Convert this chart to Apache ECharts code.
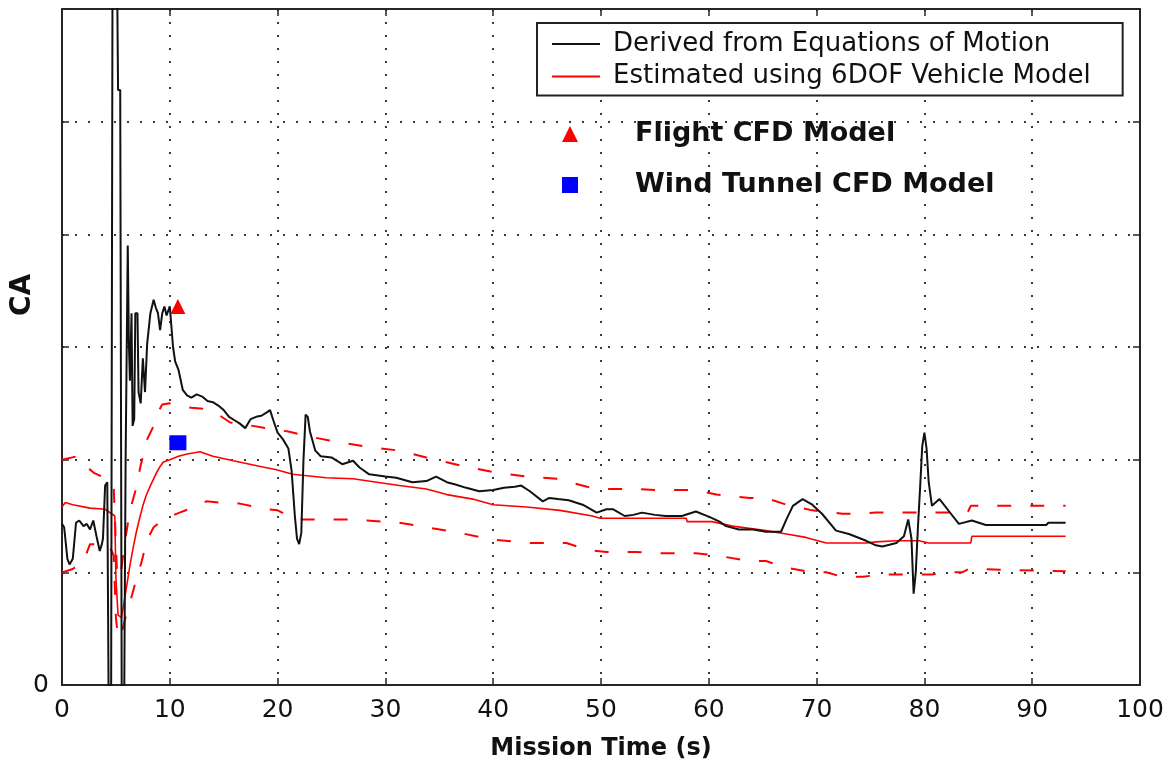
<!DOCTYPE html>
<html>
<head>
<meta charset="utf-8">
<script src="https://cdn.jsdelivr.net/npm/echarts@6/dist/echarts.min.js"></script>
<style>
html,body{margin:0;padding:0;background:#fff;}
#chart{width:1169px;height:770px;}
</style>
</head>
<body>
<div id="chart"></div>
<script>
// ---- Data ----
const xTicks = [0, 10, 20, 30, 40, 50, 60, 70, 80, 90, 100];
const yTickLabels = ['0', '', '', '', '', '', ''];

// Derived from Equations of Motion (black)
const eomTime = [0.0,0.2,0.5,0.7,1.0,1.3,1.6,2.0,2.3,2.6,2.9,3.2,3.5,3.7,3.8,4.0,4.2,4.35,4.55,4.7,5.05,5.2,5.4,5.55,5.75,
  5.9,6.1,6.2,6.3,6.45,6.55,6.7,6.8,7.0,7.1,7.3,7.5,7.7,7.9,8.2,8.5,8.7,8.9,9.1,9.3,9.5,9.7,10.0,10.3,10.5,10.8,11.2,11.6,
  12.0,12.5,13.0,13.5,14.0,14.5,15.0,15.5,16.0,16.5,17.0,17.5,18.0,18.5,19.0,19.3,19.6,20.0,20.5,21.0,21.3,21.6,21.8,22.0,
  22.2,22.4,22.6,22.8,23.0,23.5,24.0,25.0,26.0,27.0,27.6,28.5,30.0,31.0,32.5,33.8,34.7,35.7,36.5,37.5,38.7,40.0,41.0,42.0,
  42.6,43.4,44.6,45.2,46.0,47.0,48.3,49.6,50.5,51.1,52.2,53.0,53.8,55.0,56.0,57.5,58.8,60.1,61.0,61.6,62.8,64.1,65.3,66.7,
  67.2,67.8,68.7,69.6,70.5,71.8,73.0,74.6,75.5,76.1,77.4,78.1,78.5,78.8,79.0,79.2,79.4,79.6,79.8,80.0,80.2,80.4,80.7,81.4,
  82.3,83.2,84.4,85.7,91.3,91.5,93.1];
const eomCA = [1.43,1.40,1.12,1.07,1.12,1.44,1.46,1.41,1.43,1.38,1.46,1.32,1.19,1.25,1.30,1.77,1.80,-0.5,-0.5,7.0,7.0,5.28,5.28,-0.5,-0.5,
  2.0,3.9,3.05,2.7,3.3,2.3,2.36,3.3,3.3,2.6,2.5,2.9,2.6,3.03,3.3,3.42,3.35,3.3,3.15,3.3,3.36,3.28,3.36,3.0,2.87,2.8,2.62,2.57,
  2.55,2.58,2.56,2.52,2.51,2.48,2.44,2.38,2.35,2.32,2.28,2.36,2.38,2.39,2.42,2.44,2.35,2.24,2.18,2.10,1.9,1.5,1.3,1.25,
  1.35,2.0,2.40,2.38,2.25,2.08,2.03,2.02,1.96,1.99,1.93,1.87,1.85,1.84,1.80,1.81,1.85,1.80,1.78,1.75,1.72,1.73,1.75,1.76,
  1.77,1.72,1.63,1.66,1.65,1.64,1.60,1.53,1.56,1.56,1.50,1.51,1.53,1.51,1.50,1.50,1.54,1.49,1.45,1.41,1.38,1.38,1.36,1.36,
  1.47,1.59,1.65,1.60,1.52,1.37,1.34,1.28,1.24,1.23,1.26,1.32,1.47,1.30,0.81,1.0,1.40,1.75,2.12,2.24,2.10,1.80,1.59,1.65,
  1.54,1.43,1.46,1.42,1.42,1.44,1.44];

// Estimated using 6DOF Vehicle Model (red solid)
const dofTime = [0,0.3,1.0,2.6,4.0,4.6,4.9,5.0,5.2,5.5,5.7,6.0,6.3,6.6,6.9,7.2,7.5,7.8,8.2,8.5,8.8,9.1,9.4,10.0,10.8,11.6,
  12.8,14.0,15.9,18.4,19.9,21.4,24.5,27.0,29.2,31.3,33.8,35.7,38.1,40.0,43.1,46.2,49.2,49.9,57.9,58.0,60.3,62.2,65.3,67.2,
  69.0,70.9,74.6,75.5,77.4,79.5,80.4,84.3,84.4,93.1];
const dofCA = [1.58,1.62,1.60,1.57,1.56,1.52,1.50,0.95,0.62,0.60,0.70,0.88,1.06,1.22,1.36,1.48,1.59,1.68,1.77,1.83,1.89,1.94,1.98,2.00,2.03,2.05,
  2.07,2.03,1.99,1.94,1.91,1.87,1.84,1.83,1.80,1.77,1.74,1.69,1.65,1.60,1.58,1.55,1.50,1.48,1.48,1.45,1.45,1.41,1.37,1.34,
  1.31,1.26,1.26,1.27,1.28,1.28,1.26,1.26,1.32,1.32];

// Upper uncertainty bound (red dashed)
const upperTime = [0,1.4,2.0,3.0,4.2,4.8,5.1,5.4,5.8,6.3,6.8,7.3,7.9,8.4,8.9,9.3,10.0,10.9,12.0,13.4,14.5,15.6,17.7,19.5,21.0,
  22.7,24.8,27.9,31.3,33.8,36.9,40.0,43.1,45.9,48.7,50.5,53.3,55.1,58.8,60.7,63.8,65.3,67.2,69.6,72.4,74.0,75.5,84.0,84.3,93.1];
const upperCA = [2.00,2.03,1.96,1.88,1.83,1.75,1.00,0.95,1.25,1.55,1.72,1.95,2.18,2.28,2.42,2.49,2.50,2.48,2.46,2.45,2.40,2.33,2.30,2.27,2.25,
  2.21,2.17,2.12,2.08,2.02,1.95,1.89,1.85,1.83,1.76,1.74,1.74,1.73,1.73,1.69,1.66,1.66,1.60,1.55,1.52,1.52,1.53,1.53,1.59,1.59];

// Lower uncertainty bound (red dashed)
const lowerTime = [0,1.0,2.0,2.6,4.3,4.8,5.0,5.2,5.5,6.0,6.5,6.9,7.4,7.9,8.5,9.4,10.9,12.0,13.4,14.5,16.5,18.0,19.0,20.0,21.7,
  26.4,28.3,31.3,33.8,36.9,40.0,43.4,46.8,48.7,50.5,53.3,55.1,58.8,60.7,63.8,65.3,67.2,69.6,70.9,72.4,74.3,75.8,80.7,82.0,
  83.5,84.1,93.1];
const lowerCA = [1.00,1.03,1.10,1.25,1.25,1.15,0.60,0.42,0.45,0.64,0.80,0.94,1.10,1.29,1.40,1.47,1.53,1.57,1.63,1.62,1.61,1.58,1.56,1.55,1.47,
  1.47,1.46,1.44,1.40,1.35,1.29,1.26,1.26,1.20,1.18,1.18,1.17,1.17,1.15,1.10,1.10,1.04,1.00,1.00,0.96,0.96,0.98,0.98,1.00,
  1.00,1.03,1.01];

// CFD model points
const flightCFD = [10.75, 3.36];
const windTunnelCFD = [10.75, 2.15];

const seriesNames = ['Derived from Equations of Motion', 'Estimated using 6DOF Vehicle Model',
  'Flight CFD Model', 'Wind Tunnel CFD Model'];

const zip = (xs, ys) => xs.map((x, i) => [x, ys[i]]);

const FONT = 'DejaVu Sans';
const AX = '#262626';
const GRID = '#3a3a3a';

const chart = echarts.init(document.getElementById('chart'), null, {renderer: 'canvas'});

const xBase = {
  type: 'value', min: 0, max: 100, interval: 10,
  axisLine: {show: true, onZero: false, lineStyle: {color: AX, width: 2}},
  axisTick: {show: true, inside: true, length: 7, lineStyle: {color: AX, width: 1.5}}
};
const yBase = {
  type: 'value', min: 0, max: 6, interval: 1,
  axisLine: {show: true, onZero: false, lineStyle: {color: AX, width: 2}},
  axisTick: {show: true, inside: true, length: 7, lineStyle: {color: AX, width: 1.5}}
};

chart.setOption({
  animation: false,
  backgroundColor: '#ffffff',
  grid: {left: 62, right: 29, top: 9, bottom: 85, containLabel: false},
  xAxis: [
    Object.assign({}, xBase, {
      position: 'bottom',
      name: 'Mission Time (s)', nameLocation: 'middle', nameGap: 52,
      nameTextStyle: {fontFamily: FONT, fontWeight: 'bold', fontSize: 24, color: '#111'},
      axisLabel: {show: true, margin: 13, fontFamily: FONT, fontSize: 25, color: '#111',
        formatter: v => String(xTicks[xTicks.indexOf(v)])},
      splitLine: {show: true, lineStyle: {color: GRID, width: 2, type: [2, 11]}}
    }),
    Object.assign({}, xBase, {
      position: 'top',
      axisLabel: {show: false}, splitLine: {show: false}
    })
  ],
  yAxis: [
    Object.assign({}, yBase, {
      position: 'left',
      axisLabel: {show: true, margin: 13, fontFamily: FONT, fontSize: 25, color: '#111',
        formatter: v => yTickLabels[Math.round(v)] || ''},
      splitLine: {show: true, lineStyle: {color: GRID, width: 2, type: [2, 11]}}
    }),
    Object.assign({}, yBase, {
      position: 'right',
      axisLabel: {show: false}, splitLine: {show: false}
    })
  ],
  legend: [
    {
      data: [seriesNames[0], seriesNames[1]],
      orient: 'vertical', left: 537, top: 23,
      padding: [7, 32, 5, 15],
      icon: 'path://M0,0 H48 V2 H0 Z',
      itemWidth: 48, itemHeight: 2, itemGap: 4.4,
      borderColor: '#222', borderWidth: 2, backgroundColor: '#fff',
      textStyle: {fontFamily: FONT, fontSize: 26, color: '#111', lineHeight: 28, padding: [0, 0, 0, 8]},
      selectedMode: false
    },
    {
      data: [seriesNames[2], seriesNames[3]],
      orient: 'vertical', left: 562, top: 119,
      padding: 0,
      itemWidth: 16, itemHeight: 16, itemGap: 21,
      textStyle: {fontFamily: FONT, fontSize: 27, fontWeight: 'bold', color: '#111', lineHeight: 30, padding: [0, 0, 0, 52]},
      selectedMode: false
    }
  ],
  graphic: [
    {
      type: 'text', x: 23, y: 295, rotation: Math.PI / 2,
      style: {text: 'CA', fontFamily: FONT, fontWeight: 'bold', fontSize: 28, fill: '#111',
        align: 'center', verticalAlign: 'middle'}
    }
  ],
  series: [
    {
      name: 'Upper bound', type: 'line', data: zip(upperTime, upperCA),
      symbol: 'none', clip: true, z: 2,
      lineStyle: {color: '#ff0000', width: 2, type: [14, 19]}
    },
    {
      name: 'Lower bound', type: 'line', data: zip(lowerTime, lowerCA),
      symbol: 'none', clip: true, z: 2,
      lineStyle: {color: '#ff0000', width: 2, type: [14, 19]}
    },
    {
      name: seriesNames[1], type: 'line', data: zip(dofTime, dofCA),
      symbol: 'none', clip: true, z: 3,
      itemStyle: {color: '#ff0000'},
      lineStyle: {color: '#ff0000', width: 1.6}
    },
    {
      name: seriesNames[0], type: 'line', data: zip(eomTime, eomCA),
      symbol: 'none', clip: true, z: 4,
      itemStyle: {color: '#111'},
      lineStyle: {color: '#111', width: 2}
    },
    {
      name: seriesNames[2], type: 'scatter', data: [flightCFD],
      symbol: 'triangle', symbolSize: 15, z: 5,
      itemStyle: {color: '#ff0000', opacity: 1}
    },
    {
      name: seriesNames[3], type: 'scatter', data: [windTunnelCFD],
      symbol: 'rect', symbolSize: [17, 15], z: 5,
      itemStyle: {color: '#0000ff', opacity: 1}
    }
  ]
});
</script>
</body>
</html>
